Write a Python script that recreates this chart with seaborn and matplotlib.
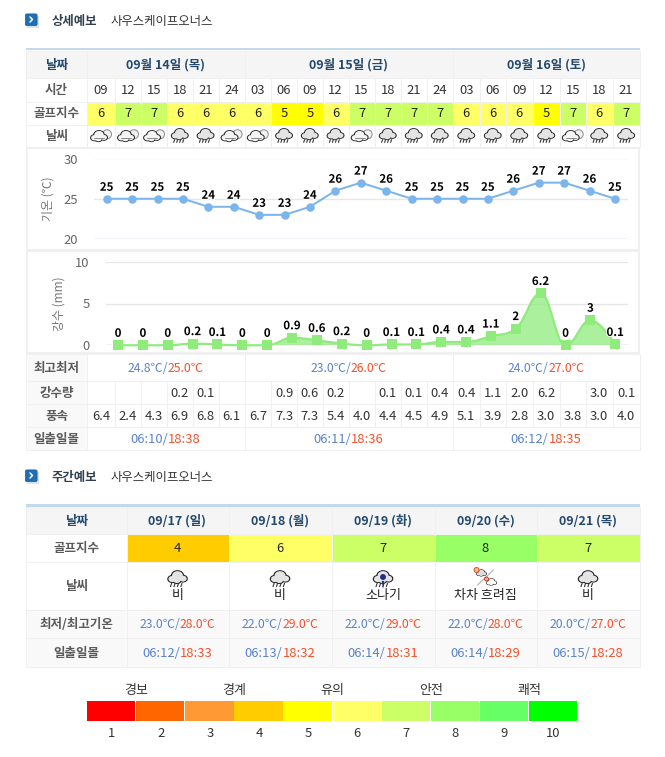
import numpy as np
import pandas as pd
import matplotlib
matplotlib.use("Agg")
import matplotlib.pyplot as plt
import matplotlib.patheffects as pe
from matplotlib.path import Path
from matplotlib.patches import PathPatch, Rectangle, Ellipse, Polygon, FancyBboxPatch
import seaborn as sns

FONT = ['Noto Sans CJK KR', 'DejaVu Sans']
course = "사우스케이프오너스"
days = ["09월 14일 (목)", "09월 15일 (금)", "09월 16일 (토)"]
day_spans = [6, 8, 7]
hours = ["09","12","15","18","21","24","03","06","09","12","15","18","21","24","03","06","09","12","15","18","21"]
golf = [6,7,7,6,6,6,6,5,5,6,7,7,7,7,6,6,6,5,7,6,7]
sky = ["c","c","c","r","r","c","c","r","r","r","c","r","r","r","r","r","r","r","c","r","r"]
temps = [25,25,25,25,24,24,23,23,24,26,27,26,25,25,25,25,26,27,27,26,25]
rain = [0,0,0,0.2,0.1,0,0,0.9,0.6,0.2,0,0.1,0.1,0.4,0.4,1.1,2,6.2,0,3,0.1]
rain_text = ["","","","0.2","0.1","","","0.9","0.6","0.2","","0.1","0.1","0.4","0.4","1.1","2.0","6.2","","3.0","0.1"]
wind = ["6.4","2.4","4.3","6.9","6.8","6.1","6.7","7.3","7.3","5.4","4.0","4.4","4.5","4.9","5.1","3.9","2.8","3.0","3.8","3.0","4.0"]
day_low = ["24.8℃","23.0℃","24.0℃"]
day_high = ["25.0℃","26.0℃","27.0℃"]
day_rise = ["06:10","06:11","06:12"]
day_set = ["18:38","18:36","18:35"]

w_dates = ["09/17 (일)","09/18 (월)","09/19 (화)","09/20 (수)","09/21 (목)"]
w_golf = [4,6,7,8,7]
w_sky = ["r","r","s","g","r"]
w_text = ["비","비","소나기","차차 흐려짐","비"]
w_low = ["23.0℃","22.0℃","22.0℃","22.0℃","20.0℃"]
w_high = ["28.0℃","29.0℃","29.0℃","28.0℃","27.0℃"]
w_rise = ["06:12","06:13","06:14","06:14","06:15"]
w_set = ["18:33","18:32","18:31","18:29","18:28"]

scale_vals = [1,2,3,4,5,6,7,8,9,10]
scale_cols = ["#FF0000","#FF6600","#FF9933","#FFCC00","#FFFF00","#FFFF66","#CCFF66","#99FF66","#66FF66","#00FF00"]
scale_names = ["경보","경계","유의","안전","쾌적"]

sns.set_theme(style="white")
plt.rcParams['font.family'] = FONT
W, H = 665, 757
fig = plt.figure(figsize=(W/100, H/100), dpi=100, facecolor="white")
bg = fig.add_axes([0, 0, 1, 1])
bg.set_xlim(0, W); bg.set_ylim(H, 0); bg.axis("off")

PX = 0.72
GRID = "#f0f0f0"; HEAD = "#f5f5f5"; SIDE = "#f9f9f9"
LABEL = "#5a5a5a"; NAVY = "#23496e"; DARK = "#333333"
BLUE = "#5b83c9"; RED = "#f4512c"
GREEN = "#8EEB7C"
YOFF = 0.8

def cell(x0, x1, y0, y1, fc="white"):
    bg.add_patch(Rectangle((x0, y0), x1-x0, y1-y0, fc=fc, ec=GRID, lw=1.0*PX, zorder=1))

def txt(x, y, s, size=13, color=DARK, weight="normal", ha="center", **kw):
    return bg.text(x, y+YOFF, s, fontsize=size*PX, color=color, fontweight=weight, ha=ha,
                   va="center", family=FONT, zorder=5, **kw)

def two_tone(x, y, a, b, size=12.2):
    fs = size*PX
    t1 = bg.text(x, y+YOFF, a+"/", fontsize=fs, color=BLUE, ha="right", va="center", family=FONT, zorder=5)
    t2 = bg.text(x, y+YOFF, b, fontsize=fs, color=RED, ha="left", va="center", family=FONT, zorder=5)
    r = fig.canvas.get_renderer()
    wa = t1.get_window_extent(r).width; wb = t2.get_window_extent(r).width
    shift = (wa-wb)/2
    t1.set_x(x+shift); t2.set_x(x+shift)

def cloud(cx, cy, s=1.0, fill="white", zo=6, edge="#222222"):
    parts = [(-4.5,1.5,4.2),(0,-1.5,5.5),(4.8,1.2,4.0),(-0.5,2.5,4.0)]
    for dx,dy,r in parts:
        bg.add_patch(Ellipse((cx+dx*s,cy+dy*s),2*r*s*1.05,2*r*s*.85,fc=edge,ec="none",zorder=zo))
    for dx,dy,r in parts:
        bg.add_patch(Ellipse((cx+dx*s,cy+dy*s),2*(r-1.0)*s*1.05,2*(r-1.0)*s*.85,fc=fill,ec="none",zorder=zo+.1))

def drops(cx, cy, s=1.0, color="#333333"):
    for dx in (-5,-2,1,4):
        bg.plot([cx+dx*s, cx+(dx-1.2)*s],[cy+4.5*s, cy+8*s],color=color,lw=1.0*PX*1.1,zorder=7,solid_capstyle="butt")

def icon_rain(cx, cy, s=1.0):
    cloud(cx, cy-1.5*s, s, "#e4e4e4"); drops(cx, cy-1*s, s)

def icon_cloud(cx, cy):
    bg.add_patch(Ellipse((cx+6,cy-1.5),9,9,fc="#f2f2f2",ec="#8a8a8a",lw=.7,zorder=5.5))
    cloud(cx-2, cy+.5, 1.0, "#f4f4f4")
    bg.plot([cx-7,cx+3],[cy+2.5,cy+2.5],color="#777777",lw=.6,zorder=7)

def icon_shower(cx, cy):
    icon_rain(cx, cy, 1.15)
    bg.add_patch(Ellipse((cx,cy-2),6,6,fc="#1f2f8f",ec="none",zorder=8))
    bg.add_patch(Polygon([[cx-1.2,cy+2],[cx+1.2,cy+2],[cx,cy+10]],fc="#1f2f8f",ec="none",zorder=8))

def icon_gradual(cx, cy):
    bg.add_patch(Ellipse((cx-9,cy-8),5,5,fc="#f7b77a",ec="#cc4422",lw=.6,zorder=7))
    cloud(cx-4, cy-5, .6, "#dddddd")
    bg.plot([cx-8,cx+8],[cy+7,cy-8],color="#bdbdbd",lw=1.0,zorder=6)
    bg.add_patch(Ellipse((cx+1,cy+1),4,4,fc="#f7b77a",ec="#cc2222",lw=.6,zorder=8))
    cloud(cx+6, cy+4, .62, "#ffffff")

def section(y, name):
    bg.add_patch(Rectangle((26.5, y-5), 12, 12, fc="#dde3ea", ec="none", zorder=2))
    bg.add_patch(FancyBboxPatch((26, y-6), 10.5, 10.5, boxstyle="round,pad=0.6,rounding_size=1.5",
                                fc="#1f6fb5", ec="#1a5a96", lw=.5, zorder=3))
    bg.plot([30, 32.5, 30],[y-3.5, y-1, y+1.5], color="white", lw=1.1, zorder=4)
    txt(52, y, name, size=12.4, weight="bold", color="#2f3f4f", ha="left")
    txt(111, y, course, size=12.4, color="#333333", ha="left")

# ---------- daily table
section(20.5, "상세예보")
xs = [87,115,141,167,192.5,218.5,244.5,271,297,322.5,348.5,374.7,400.7,426.7,452.7,479.7,505.7,532.7,559.7,585.7,612.7,639.5]
left = 26
rows = {"date":(50.5,78),"time":(78,101.5),"golf":(101.5,124.5),"sky":(124.5,147),
        "hl":(353.5,381),"rain":(381,404),"wind":(404,427),"sun":(427,450)}
names = {"date":"날짜","time":"시간","golf":"골프지수","sky":"날씨","hl":"최고최저","rain":"강수량","wind":"풍속","sun":"일출일몰"}
for k,(y0,y1) in rows.items():
    cell(left, xs[0], y0, y1, HEAD if k=="date" else (SIDE if k in("hl","rain","wind","sun") else "#ffffff"))
    txt((left+xs[0])/2, (y0+y1)/2, names[k], weight="bold", size=12.5, color=NAVY if k=="date" else LABEL)
bg.add_patch(Rectangle((26,48),613.5,2.2,fc="#c3daec",ec="none",zorder=4))

bounds = np.cumsum([0]+day_spans)
for i,d in enumerate(days):
    x0,x1 = xs[bounds[i]], xs[bounds[i+1]]
    y0,y1 = rows["date"]; cell(x0,x1,y0,y1,HEAD)
    txt((x0+x1)/2,(y0+y1)/2,d,weight="bold",size=12.5,color=NAVY)
    y0,y1 = rows["hl"]; cell(x0,x1,y0,y1)
    two_tone((x0+x1)/2,(y0+y1)/2,day_low[i],day_high[i])
    y0,y1 = rows["sun"]; cell(x0,x1,y0,y1)
    two_tone((x0+x1)/2,(y0+y1)/2,day_rise[i],day_set[i],13)

for i in range(21):
    x0,x1 = xs[i],xs[i+1]; xc=(x0+x1)/2
    y0,y1=rows["time"]; cell(x0,x1,y0,y1); txt(xc,(y0+y1)/2,hours[i])
    y0,y1=rows["golf"]; cell(x0,x1,y0,y1,scale_cols[golf[i]-1]); txt(xc,(y0+y1)/2,str(golf[i]),color="#222222")
    y0,y1=rows["sky"]; cell(x0,x1,y0,y1)
    yc=(y0+y1)/2
    (icon_rain if sky[i]=="r" else icon_cloud)(xc,yc)
    y0,y1=rows["rain"]; cell(x0,x1,y0,y1); txt(xc,(y0+y1)/2,rain_text[i])
    y0,y1=rows["wind"]; cell(x0,x1,y0,y1); txt(xc,(y0+y1)/2,wind[i])

# chart frames
for y0,y1 in ((147.5,249.5),(250.5,353)):
    bg.add_patch(Rectangle((26.5,y0),612.5,y1-y0,fc="white",ec="#efefef",lw=1.8*PX,zorder=1.5))

def px_axes(x0,x1,ytop,ybot):
    return fig.add_axes([x0/W, 1-ybot/H, (x1-x0)/W, (ybot-ytop)/H], facecolor="none")

def style_chart(ax, ticks, base):
    ax.set_xlim(-.5,20.5); ax.set_xticks([]); ax.set_yticks(ticks)
    sns.despine(ax=ax,left=True,bottom=True)
    ax.set_xlabel("")
    ax.tick_params(axis="y",length=0,pad=11.5,labelsize=13*PX,labelcolor="#666666")
    ax.grid(axis="y",color="#e6e6e6",lw=1.4*PX); ax.set_axisbelow(True)
    ax.axhline(base,color="#ccd6eb",lw=1.4*PX,zorder=1)

idx = np.arange(21)
# temperature
ax1 = px_axes(94,627.7,158.5,239)
df1 = pd.DataFrame({"slot":idx,"temp":temps})
sns.lineplot(data=df1,x="slot",y="temp",ax=ax1,color="#7CB5EC",lw=2*PX,marker="o",markersize=8.5*PX,
             markeredgewidth=0,clip_on=False,errorbar=None,zorder=3)
ax1.set_ylim(20,30); style_chart(ax1,[20,25,30],20)
ax1.set_ylabel("기온 (℃)",fontsize=12*PX,color="#777777",labelpad=0,family=FONT)
ax1.yaxis.set_label_coords((55-94)/(627.7-94),.5)
for i,t in zip(idx,temps):
    ax1.annotate(str(t),(i,t),xytext=(0,11.5*PX),textcoords="offset points",ha="center",va="center",
                 fontsize=11.5*PX,fontweight="bold",color="black",annotation_clip=False,
                 path_effects=[pe.withStroke(linewidth=1.5,foreground="white")],zorder=6)

def spline(xv,yv,smooth=1.5):
    n=len(xv); lc=[None]*n; rc=[None]*n
    for i in range(n):
        x,y=xv[i],yv[i]
        if i==0 or i==n-1:
            lc[i]=(x,y); rc[i]=(x,y); continue
        d=smooth+1
        lx=(smooth*x+xv[i-1])/d; ly=(smooth*y+yv[i-1])/d
        rx=(smooth*x+xv[i+1])/d; ry=(smooth*y+yv[i+1])/d
        c=((ry-ly)*(rx-x))/(rx-lx)+y-ry
        ly+=c; ry+=c
        if ly>yv[i-1] and ly>y: ly=max(yv[i-1],y); ry=2*y-ly
        elif ly<yv[i-1] and ly<y: ly=min(yv[i-1],y); ry=2*y-ly
        if ry>yv[i+1] and ry>y: ry=max(yv[i+1],y); ly=2*y-ry
        elif ry<yv[i+1] and ry<y: ry=min(yv[i+1],y); ly=2*y-ry
        lc[i]=(lx,ly); rc[i]=(rx,ry)
    v=[(xv[0],yv[0])]; code=[Path.MOVETO]
    for i in range(1,n):
        v+= [rc[i-1],lc[i],(xv[i],yv[i])]; code+=[Path.CURVE4]*3
    return v,code

# rainfall
ax2 = px_axes(105.6,627.7,261.7,345.3)
df2 = pd.DataFrame({"slot":idx,"rain":rain})
v,c = spline(list(map(float,idx)),list(map(float,rain)))
af = v+[(20,0),(0,0),(0,0)]; ac = c+[Path.LINETO,Path.LINETO,Path.CLOSEPOLY]
ax2.add_patch(PathPatch(Path(af,ac),fc=GREEN,alpha=.75,ec="none",zorder=2))
ax2.add_patch(PathPatch(Path(v,c),fc="none",ec=GREEN,lw=2.2*PX,zorder=3,clip_on=False))
sns.scatterplot(data=df2,x="slot",y="rain",ax=ax2,color=GREEN,marker="s",s=(10*PX)**2,linewidth=0,
                alpha=1,clip_on=False,zorder=4)
ax2.set_ylim(0,10); style_chart(ax2,[0,5,10],0)
ax2.set_ylabel("강수 (mm)",fontsize=12*PX,color="#777777",labelpad=0,family=FONT)
ax2.yaxis.set_label_coords((66-105.6)/(627.7-105.6),.5)
for i,t in zip(idx,rain):
    ax2.annotate(f"{t:g}",(i,t),xytext=(0,12*PX),textcoords="offset points",ha="center",va="center",
                 fontsize=11.5*PX,fontweight="bold",color="black",annotation_clip=False,
                 path_effects=[pe.withStroke(linewidth=1.5,foreground="white")],zorder=6)

# ---------- weekly table
section(476.5, "주간예보")
wx = [26,126.5,228.5,331.5,434.5,536.5,639.5]
wr = [(506.5,534),(534,562),(562,610),(610,638),(638,666.5)]
wn = ["날짜","골프지수","날씨","최저/최고기온","일출일몰"]
wfc = [HEAD,"#ffffff","#ffffff",SIDE,SIDE]
for (y0,y1),n,f in zip(wr,wn,wfc):
    cell(wx[0],wx[1],y0,y1,f)
    txt((wx[0]+wx[1])/2,(y0+y1)/2,n,weight="bold",size=12.5,color=NAVY if n=="날짜" else LABEL)
bg.add_patch(Rectangle((26,504.3),613.5,2.2,fc="#c3daec",ec="none",zorder=4))
for i in range(5):
    x0,x1=wx[i+1],wx[i+2]; xc=(x0+x1)/2
    y0,y1=wr[0]; cell(x0,x1,y0,y1,HEAD); txt(xc,(y0+y1)/2,w_dates[i],weight="bold",size=12.5,color=NAVY)
    y0,y1=wr[1]; cell(x0,x1,y0,y1,scale_cols[w_golf[i]-1]); txt(xc,(y0+y1)/2,str(w_golf[i]),color="#222222")
    y0,y1=wr[2]; cell(x0,x1,y0,y1)
    if w_sky[i]=="r": icon_rain(xc,579,1.15)
    elif w_sky[i]=="s": icon_shower(xc,579)
    else: icon_gradual(xc,578)
    txt(xc,594.5,w_text[i],color="#222222")
    y0,y1=wr[3]; cell(x0,x1,y0,y1,SIDE); two_tone(xc,(y0+y1)/2,w_low[i],w_high[i])
    y0,y1=wr[4]; cell(x0,x1,y0,y1,SIDE); two_tone(xc,(y0+y1)/2,w_rise[i],w_set[i],13)

# ---------- colour scale
sx0,sx1=87,578
step=(sx1-sx0)/10
for i,(v_,col) in enumerate(zip(scale_vals,scale_cols)):
    bg.add_patch(Rectangle((sx0+i*step,701),step-.8,20,fc=col,ec="none",zorder=3))
    txt(sx0+(i+.5)*step,732.5,str(v_),color="#333333")
for i,n in enumerate(scale_names):
    txt(136+98.3*i,690,n,color="#333333")

fig.savefig("out.png",dpi=100,facecolor="white")
